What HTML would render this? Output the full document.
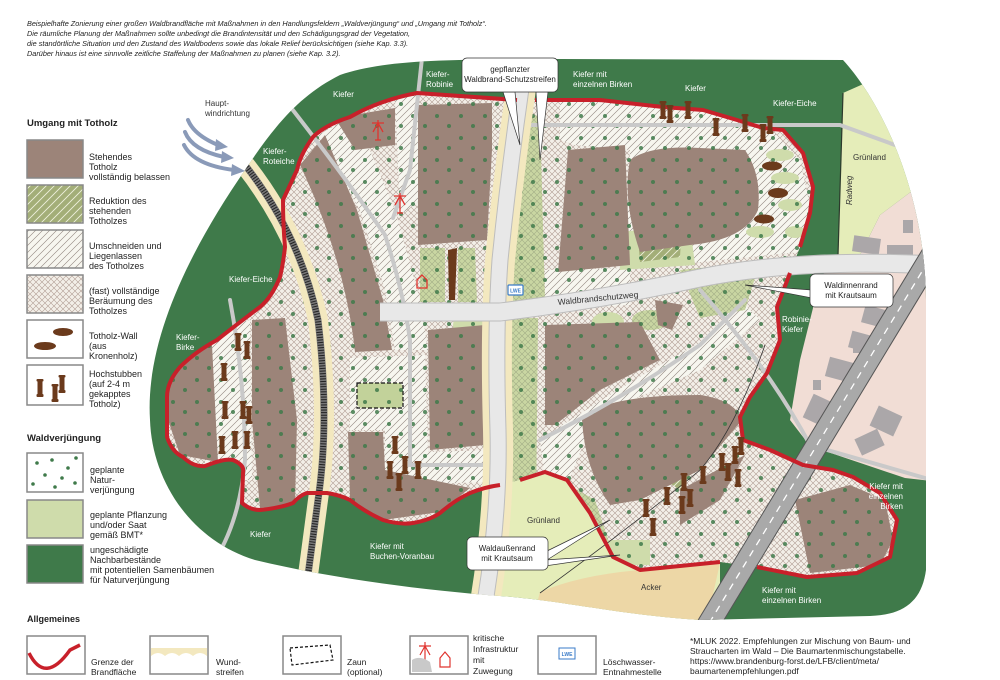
<!DOCTYPE html>
<html><head><meta charset="utf-8">
<style>
html,body{margin:0;padding:0;background:#fff;}
body{width:1000px;height:680px;overflow:hidden;position:relative;font-family:"Liberation Sans",sans-serif;}
svg{position:absolute;left:0;top:0;}
.t{font-family:"Liberation Sans",sans-serif;}
</style></head><body>
<svg width="1000" height="680" viewBox="0 0 1000 680" xmlns="http://www.w3.org/2000/svg">
<defs>
<pattern id="cross" width="6" height="6" patternUnits="userSpaceOnUse">
<rect width="6" height="6" fill="#f3efe8"/>
<path d="M0,0 L6,6 M6,0 L0,6" stroke="#b19d94" stroke-width="0.6"/>
</pattern>
<pattern id="crossg" width="6" height="6" patternUnits="userSpaceOnUse">
<rect width="6" height="6" fill="#c9d6a2"/>
<path d="M0,0 L6,6 M6,0 L0,6" stroke="#a3ad86" stroke-width="0.6"/>
</pattern>
<pattern id="hatch" width="7" height="7" patternUnits="userSpaceOnUse">
<rect width="7" height="7" fill="#f7f6ef"/>
<path d="M-1,8 L8,-1 M-1,1 L1,-1 M6,8 L8,6" stroke="#8e827b" stroke-width="0.6"/>
</pattern>
<pattern id="ghatch" width="8" height="8" patternUnits="userSpaceOnUse">
<rect width="8" height="8" fill="#a3ae78"/>
<path d="M-1,9 L9,-1 M-1,1 L1,-1 M7,9 L9,7" stroke="#eef0dc" stroke-width="0.9"/>
</pattern>
<pattern id="dots" width="24" height="22" patternUnits="userSpaceOnUse">
<circle cx="5" cy="6" r="2" fill="#3f7a4a"/>
<circle cx="17" cy="16" r="2" fill="#3f7a4a"/>
</pattern>
<clipPath id="outer">
<path d="M150,420 C145,340 190,250 245,170 C275,125 300,95 340,75 C390,58 460,60 560,59 L843,60 C880,100 925,190 926,300 L926,570 C922,600 905,615 870,616 L700,620 C620,615 560,600 500,596 C420,590 330,578 255,560 C190,540 152,480 150,420 Z"/>
</clipPath>
<clipPath id="burn">
<path id="burnp" d="M517,100 L417,93 Q380,100 350,117 Q325,125 313,137 Q300,155 297,170 L283,200 Q283,225 285,247 Q283,265 280,277 Q272,297 260,307 Q240,322 217,340 Q195,352 180,367 Q167,382 167,397 L167,437 Q172,452 183,457 Q193,467 205,466 Q225,458 233,460 Q245,465 243,473 L242,503 Q250,510 260,510 Q280,508 293,503 Q300,495 307,493 L327,493 Q340,495 350,500 Q365,512 383,520 Q400,525 413,523 Q430,520 440,513 Q455,500 470,493 Q485,487 500,485 L520,480 L545,472 L567,480 L590,513 L613,557 L640,570 L720,562 L757,567 L807,577 L857,573 L890,557 L897,520 L880,493 L853,477 L833,470 L803,465 L770,450 L743,440 L740,417 L750,397 L767,373 L780,340 L777,307 L790,273 L800,247 L810,213 L813,187 L803,153 L783,130 L763,128 L737,120 L703,110 L663,107 L600,100 Z"/>
</clipPath>
<g id="st"><rect x="-2.5" y="-9" width="5" height="18" rx="1" fill="#6b3a1c"/><rect x="-3.5" y="-9" width="7" height="2.5" rx="1" fill="#6b3a1c"/><rect x="-3.5" y="6" width="7" height="3" rx="1" fill="#6b3a1c"/></g>
</defs>

<g class="t" font-size="7.3" font-style="italic" fill="#222">
<text x="27" y="26">Beispielhafte Zonierung einer großen Waldbrandfläche mit Maßnahmen in den Handlungsfeldern „Waldverjüngung“ und „Umgang mit Totholz“.</text>
<text x="27" y="36">Die räumliche Planung der Maßnahmen sollte unbedingt die Brandintensität und den Schädigungsgrad der Vegetation,</text>
<text x="27" y="46">die standörtliche Situation und den Zustand des Waldbodens sowie das lokale Relief berücksichtigen (siehe Kap. 3.3).</text>
<text x="27" y="56">Darüber hinaus ist eine sinnvolle zeitliche Staffelung der Maßnahmen zu planen (siehe Kap. 3.2).</text>
</g>

<g clip-path="url(#outer)">
<rect x="140" y="50" width="800" height="580" fill="#3f7a4a"/>
<path d="M843,93 L940,50 L940,170 L880,215 L860,255 L838,255 Z" fill="#e5edb9"/>
<line x1="843" y1="93" x2="838" y2="255" stroke="#2c3a2c" stroke-width="1.2"/>
<path d="M838,262 L860,255 L880,215 L940,170 L940,482 L905,478 L810,446 L790,420 L800,360 L815,300 L825,270 Z" fill="#f1ddd5"/>
<line x1="810" y1="446" x2="930" y2="480" stroke="#aaa" stroke-width="2"/>
<g fill="#aba7a9">
<rect x="853" y="237" width="27" height="16" transform="rotate(8 866 245)"/>
<rect x="887" y="245" width="26" height="14"/>
<rect x="903" y="220" width="10" height="13"/>
<rect x="868" y="277" width="22" height="13"/>
<rect x="863" y="307" width="20" height="18" transform="rotate(15 873 316)"/>
<rect x="850" y="333" width="20" height="17" transform="rotate(15 860 341)"/>
<rect x="853" y="340" width="20" height="13"/>
<rect x="827" y="360" width="28" height="20" transform="rotate(15 841 370)"/>
<rect x="813" y="380" width="8" height="10"/>
<rect x="807" y="398" width="25" height="26" transform="rotate(25 820 411)"/>
<rect x="873" y="410" width="26" height="22" transform="rotate(25 886 421)"/>
<rect x="857" y="433" width="25" height="18" transform="rotate(-25 870 442)"/>
</g>
<path d="M495,486 L545,472 L567,480 L590,513 L613,557 L640,570 L720,562 L720,630 L470,630 Z" fill="#e5edb9"/>
<path d="M540,592 Q580,575 640,570 L720,563 L705,630 L530,630 Z" fill="#edd7a6"/>

<use href="#burnp" fill="url(#cross)"/>

<g clip-path="url(#burn)">
<g fill="url(#hatch)">
<path d="M318,135 L355,115 L395,210 L420,300 L428,350 L395,350 L385,290 L360,210 Z"/>
<path d="M395,95 L418,95 L420,200 L400,215 Z"/>
<path d="M205,330 L250,320 L252,480 L205,480 Z"/>
<path d="M350,358 L425,355 L428,452 L492,450 L492,482 L385,485 L385,430 L350,430 Z"/>
<path d="M560,100 L700,108 L770,128 L800,160 L812,215 L800,252 L700,262 L625,270 L630,150 L575,145 L560,140 Z"/>
<path d="M540,440 Q600,400 660,365 L705,340 L740,300 L760,320 L700,370 L620,405 L585,440 L565,490 L545,480 Z"/>
<path d="M545,270 L630,268 L630,305 L545,310 Z"/>
</g>
<g fill="url(#crossg)">
<path d="M515,118 L540,115 L545,300 L513,302 Z"/>
<path d="M510,318 L538,318 L536,520 L505,520 Z"/>
<path d="M420,248 L445,248 L445,302 L420,302 Z"/>
<path d="M458,248 L475,248 L477,302 L458,302 Z"/>
<path d="M560,480 L595,500 L610,545 L580,545 Z"/>
<path d="M680,270 L760,262 L745,310 L700,318 Z"/>
<ellipse cx="650" cy="320" rx="18" ry="10"/>
</g>
<g fill="#cfdcab">
<ellipse cx="472" cy="135" rx="13" ry="17"/>
<ellipse cx="470" cy="325" rx="17" ry="12"/>
<ellipse cx="608" cy="322" rx="16" ry="10"/>
<path d="M620,232 L690,225 L695,265 L620,270 Z"/>
<ellipse cx="780" cy="155" rx="14" ry="6"/>
<ellipse cx="785" cy="178" rx="14" ry="6"/>
<ellipse cx="790" cy="205" rx="12" ry="6"/>
<ellipse cx="760" cy="232" rx="14" ry="6"/>
<ellipse cx="795" cy="232" rx="10" ry="6"/>
<path d="M590,540 L650,540 L650,565 L600,565 Z"/>
</g>
<rect x="357" y="383" width="46" height="25" rx="5" fill="#c2d29a"/>
<rect x="357" y="383" width="46" height="25" fill="none" stroke="#111" stroke-width="1.2" stroke-dasharray="4,2"/>
<g fill="url(#ghatch)">
<path d="M637,225 L682,222 L680,257 L640,262 Z"/>
<path d="M642,432 Q660,425 670,440 L690,475 L680,490 L650,470 Z"/>
</g>
<g fill="#9c8479">
<path d="M300,165 L325,135 L357,210 L383,300 L392,350 L355,352 Q345,260 300,165 Z"/>
<path d="M348,432 L383,432 L385,470 L470,488 L440,512 L383,520 L350,500 Z"/>
<path d="M252,320 L285,318 L297,420 L295,505 L260,508 L252,420 Z"/>
<path d="M170,360 L212,345 L218,462 L180,455 L168,420 Z"/>
<path d="M418,105 L492,103 L492,150 L487,240 L418,245 Z"/>
<path d="M335,118 L395,108 L395,145 L355,150 Z"/>
<path d="M428,330 L485,325 L485,445 L430,450 Z"/>
<path d="M568,150 L625,145 L630,265 L558,272 Z"/>
<path d="M630,160 Q650,145 700,148 L745,150 Q762,175 758,210 Q745,240 690,245 L640,252 Q622,200 630,160 Z"/>
<path d="M545,325 L640,322 L660,360 L600,390 L555,425 L545,425 Z"/>
<path d="M655,300 L683,305 L672,330 L658,325 Z"/>
<path d="M582,420 Q600,395 700,395 Q735,400 742,420 L700,470 L640,500 L610,505 Q585,470 582,420 Z"/>
<path d="M680,490 L745,455 L720,500 L680,525 Z"/>
<path d="M795,500 L850,485 L885,500 L893,540 L880,565 L810,573 Z"/>
</g>
<rect x="0" y="0" width="1000" height="680" fill="url(#dots)" opacity="0.85"/>
</g>

<g fill="none" stroke="#c9c9c9" stroke-width="4" stroke-linecap="round">
<path d="M285,100 Q340,170 385,235 Q403,290 410,340 L410,465 L497,465"/>
<path d="M422,58 L410,170 L393,218"/>
<path d="M230,300 Q245,380 245,460 Q240,520 215,560"/>
<path d="M520,125 L650,125 L840,125 L895,145"/>
<path d="M540,440 Q620,400 700,345 L745,300"/>
<path d="M700,290 Q770,370 810,445 L925,478"/>
<path d="M398,305 L480,305"/>
</g>
<path d="M540,593 Q640,520 700,470 Q735,430 765,345" fill="none" stroke="#333" stroke-width="0.8"/>

<path d="M245,165 Q300,235 318,320 Q330,420 318,500 L302,620" fill="none" stroke="#f3e8bf" stroke-width="20"/>
<path d="M245,165 Q300,235 318,320 Q330,420 318,500 L302,620" fill="none" stroke="#777" stroke-width="7"/>
<path d="M245,165 Q300,235 318,320 Q330,420 318,500 L302,620" fill="none" stroke="#222" stroke-width="6" stroke-dasharray="1,1.6"/>

<path d="M526,55 Q510,160 500,260 Q495,330 498,430 Q500,520 482,620" fill="none" stroke="#f3e8bf" stroke-width="30"/>
<path d="M526,55 Q510,160 500,260 Q495,330 498,430 Q500,520 482,620" fill="none" stroke="#bdbdbd" stroke-width="17"/>
<path d="M526,55 Q510,160 500,260 Q495,330 498,430 Q500,520 482,620" fill="none" stroke="#e8e8e8" stroke-width="15"/>
<path d="M380,312 L500,312 Q600,300 700,278 Q800,258 935,265" fill="none" stroke="#bdbdbd" stroke-width="19"/>
<path d="M380,312 L500,312 Q600,300 700,278 Q800,258 935,265" fill="none" stroke="#e8e8e8" stroke-width="17"/>
<path d="M935,250 L705,630" stroke="#555" stroke-width="23"/>
<path d="M935,250 L705,630" stroke="#a9a9a9" stroke-width="21"/>
<path d="M935,250 L705,630" stroke="#fff" stroke-width="1.3" stroke-dasharray="7,6"/>
</g>

<path d="M517,100 L417,93 Q380,100 350,117 Q325,125 313,137 Q300,155 297,170 L283,200 Q283,225 285,247 Q283,265 280,277 Q272,297 260,307 Q240,322 217,340 Q195,352 180,367 Q167,382 167,397 L167,437 Q172,452 183,457 Q193,467 205,466 Q225,458 233,460 Q245,465 243,473 L242,503 Q250,510 260,510 Q280,508 293,503 Q300,495 307,493 L327,493 Q340,495 350,500 Q365,512 383,520 Q400,525 413,523 Q430,520 440,513 Q455,500 470,493 Q485,487 500,485 M520,480 L545,472 L567,480 L590,513 L613,557 L640,570 L720,562 M757,567 L807,577 L857,573 L890,557 L897,520 L880,493 L853,477 L833,470 L803,465 L770,450 L743,440 L740,417 L750,397 L767,373 L780,340 L777,307 L790,273 M800,247 L810,213 L813,187 L803,153 L783,130 L763,128 L737,120 L703,110 L663,107 L600,100 L535,100" fill="none" stroke="#c8202a" stroke-width="4" stroke-linejoin="round"/>

<g>
<use href="#st" x="663" y="110"/><use href="#st" x="670" y="114"/><use href="#st" x="688" y="110"/><use href="#st" x="716" y="127"/><use href="#st" x="745" y="123"/><use href="#st" x="763" y="133"/><use href="#st" x="770" y="125"/>
<use href="#st" x="238" y="342"/><use href="#st" x="247" y="350"/><use href="#st" x="224" y="372"/><use href="#st" x="225" y="410"/><use href="#st" x="243" y="410"/><use href="#st" x="249" y="415"/><use href="#st" x="222" y="445"/><use href="#st" x="235" y="440"/><use href="#st" x="247" y="440"/>
<use href="#st" x="395" y="445"/><use href="#st" x="390" y="470"/><use href="#st" x="405" y="465"/><use href="#st" x="399" y="482"/><use href="#st" x="418" y="470"/>
<use href="#st" x="646" y="508"/><use href="#st" x="653" y="527"/><use href="#st" x="667" y="496"/><use href="#st" x="684" y="482"/><use href="#st" x="682" y="505"/><use href="#st" x="690" y="498"/><use href="#st" x="703" y="475"/><use href="#st" x="722" y="462"/><use href="#st" x="728" y="472"/><use href="#st" x="735" y="455"/><use href="#st" x="738" y="478"/><use href="#st" x="741" y="446"/>
</g>
<path d="M448,250 L457,248 L455,300 L449,300 Z" fill="#6b3a1c"/>
<g fill="#6b3a1c">
<ellipse cx="772" cy="166" rx="10" ry="4.5"/><ellipse cx="778" cy="193" rx="10" ry="5"/><ellipse cx="764" cy="219" rx="10" ry="4.5"/>
</g>
<g fill="none" stroke="#e0342f" stroke-width="1.3">
<path d="M378,120 L378,140 M372,123 L384,123 M375,140 L381,140 M378,123 L373,132 M378,123 L383,132"/>
<path d="M400,193 L400,213 M394,196 L406,196 M397,213 L403,213 M400,196 L395,205 M400,196 L405,205"/>
<path d="M417,280 L422,275 L427,280 L427,288 L417,288 Z"/>
</g>
<rect x="508" y="285" width="15" height="10" fill="#fff" stroke="#3a7bc8" stroke-width="1.2" rx="1"/>
<text x="515.5" y="292.5" font-size="5" text-anchor="middle" fill="#3a7bc8" class="t" font-weight="bold">LWE</text>

<g fill="none" stroke="#8a9ab8" stroke-width="4" stroke-linecap="round">
<path d="M188,120 Q194,135 218,145"/>
<path d="M185,132 Q192,150 224,157"/>
<path d="M184,145 Q194,165 234,170"/>
</g>
<g fill="#8a9ab8"><path d="M216,139 L228,147 L215,151 Z"/><path d="M222,151 L234,158 L221,163 Z"/><path d="M232,164 L245,171 L231,176 Z"/></g>
<text class="t" font-size="8" fill="#333"><tspan x="205" y="106">Haupt-</tspan><tspan x="205" y="116">windrichtung</tspan></text>

<g class="t" font-size="8" fill="#fff">
<text x="333" y="97">Kiefer</text>
<text x="426" y="77">Kiefer-</text><text x="426" y="87">Robinie</text>
<text x="573" y="77">Kiefer mit</text><text x="573" y="87">einzelnen Birken</text>
<text x="685" y="91">Kiefer</text>
<text x="773" y="106">Kiefer-Eiche</text>
<text x="263" y="154">Kiefer-</text><text x="263" y="164">Roteiche</text>
<text x="229" y="282">Kiefer-Eiche</text>
<text x="176" y="340">Kiefer-</text><text x="176" y="350">Birke</text>
<text x="250" y="537">Kiefer</text>
<text x="370" y="549">Kiefer mit</text><text x="370" y="559">Buchen-Voranbau</text>
<text x="782" y="322">Robinie-</text><text x="782" y="332">Kiefer</text>
<text x="903" y="489" text-anchor="end">Kiefer mit</text><text x="903" y="499" text-anchor="end">einzelnen</text><text x="903" y="509" text-anchor="end">Birken</text>
<text x="762" y="593">Kiefer mit</text><text x="762" y="603">einzelnen Birken</text>
</g>
<g class="t" font-size="8" fill="#333">
<text x="853" y="160">Grünland</text>
<text x="852" y="205" transform="rotate(-90 852 205)" font-style="italic">Radweg</text>
<text x="527" y="523">Grünland</text>
<text x="641" y="590">Acker</text>
<text x="558" y="305" transform="rotate(-5.5 558 305)" font-size="8.5">Waldbrandschutzweg</text>
</g>

<g stroke="#333" stroke-width="0.7" fill="#fff">
<path d="M503,92 L520,145 L515,92 Z"/>
<path d="M548,92 L540,160 L536,92 Z"/>
<path d="M812,290 L745,285 L812,298 Z"/>
<path d="M545,552 L610,520 L547,560 Z"/>
<path d="M545,560 L620,555 L545,566 Z"/>
<rect x="462" y="58" width="96" height="34" rx="5"/>
<rect x="810" y="274" width="83" height="33" rx="5"/>
<rect x="467" y="537" width="81" height="33" rx="5"/>
</g>
<g class="t" font-size="8" fill="#222" text-anchor="middle">
<text x="510" y="72">gepflanzter</text><text x="510" y="82">Waldbrand-Schutzstreifen</text>
<text x="851" y="288">Waldinnenrand</text><text x="851" y="298">mit Krautsaum</text>
<text x="507" y="551">Waldaußenrand</text><text x="507" y="561">mit Krautsaum</text>
</g>

<g class="t" fill="#222">
<text x="27" y="126" font-size="9.5" font-weight="bold">Umgang mit Totholz</text>
<g stroke="#888" stroke-width="1.5">
<rect x="27" y="140" width="56" height="38" fill="#9c8479"/>
<rect x="27" y="185" width="56" height="38" fill="url(#ghatch)"/>
<rect x="27" y="230" width="56" height="38" fill="url(#hatch)"/>
<rect x="27" y="275" width="56" height="38" fill="url(#cross)"/>
<rect x="27" y="320" width="56" height="38" fill="#fff"/>
<rect x="27" y="365" width="56" height="40" fill="#fff"/>
<rect x="27" y="453" width="56" height="39" fill="#fff"/>
<rect x="27" y="500" width="56" height="38" fill="#cfdcab"/>
<rect x="27" y="545" width="56" height="38" fill="#3f7a4a"/>
</g>
<g fill="#6b3a1c"><ellipse cx="63" cy="332" rx="10" ry="4"/><ellipse cx="45" cy="346" rx="11" ry="4"/></g>
<use href="#st" x="40" y="388"/><use href="#st" x="55" y="393"/><use href="#st" x="62" y="384"/>
<g fill="#3f7a4a"><circle cx="37" cy="463" r="1.8"/><circle cx="52" cy="460" r="1.8"/><circle cx="68" cy="468" r="1.8"/><circle cx="45" cy="475" r="1.8"/><circle cx="62" cy="478" r="1.8"/><circle cx="76" cy="458" r="1.8"/><circle cx="33" cy="484" r="1.8"/><circle cx="55" cy="487" r="1.8"/><circle cx="75" cy="483" r="1.8"/></g>
<g font-size="9">
<text x="89" y="160">Stehendes</text><text x="89" y="170">Totholz</text><text x="89" y="180">vollständig belassen</text>
<text x="89" y="204">Reduktion des</text><text x="89" y="214">stehenden</text><text x="89" y="224">Totholzes</text>
<text x="89" y="249">Umschneiden und</text><text x="89" y="259">Liegenlassen</text><text x="89" y="269">des Totholzes</text>
<text x="89" y="294">(fast) vollständige</text><text x="89" y="304">Beräumung des</text><text x="89" y="314">Totholzes</text>
<text x="89" y="339">Totholz-Wall</text><text x="89" y="349">(aus</text><text x="89" y="359">Kronenholz)</text>
<text x="89" y="377">Hochstubben</text><text x="89" y="387">(auf 2-4 m</text><text x="89" y="397">gekapptes</text><text x="89" y="407">Totholz)</text>
</g>
<text x="27" y="441" font-size="9.5" font-weight="bold">Waldverjüngung</text>
<g font-size="9">
<text x="90" y="473">geplante</text><text x="90" y="483">Natur-</text><text x="90" y="493">verjüngung</text>
<text x="90" y="518">geplante Pflanzung</text><text x="90" y="528">und/oder Saat</text><text x="90" y="538">gemäß BMT*</text>
<text x="90" y="553">ungeschädigte</text><text x="90" y="563">Nachbarbestände</text><text x="90" y="573">mit potentiellen Samenbäumen</text><text x="90" y="583">für Naturverjüngung</text>
</g>
<text x="27" y="622" font-size="9" font-weight="bold">Allgemeines</text>
<g stroke="#888" stroke-width="1.5" fill="#fff">
<rect x="27" y="636" width="58" height="38"/>
<rect x="150" y="636" width="58" height="38"/>
<rect x="283" y="636" width="58" height="38"/>
<rect x="410" y="636" width="58" height="38"/>
<rect x="538" y="636" width="58" height="38"/>
</g>
<path d="M29,653 Q45,685 70,650 L80,645" fill="none" stroke="#c8202a" stroke-width="3.5"/>
<path d="M151,648 L207,648 L207,656 Q200,650 193,656 Q186,650 179,656 Q172,650 165,656 Q158,650 151,656 Z" fill="#f3e8bf"/>
<path d="M290,648 L330,645 L333,660 L292,665 Z" fill="none" stroke="#111" stroke-width="1.2" stroke-dasharray="3,2"/>
<g fill="none" stroke="#e0342f" stroke-width="1.2"><path d="M425,642 L425,665 M419,646 L431,646 M425,646 L420,655 M425,646 L430,655"/><path d="M440,658 L445,652 L450,658 L450,667 L440,667 Z"/></g>
<path d="M412,660 Q420,655 430,662 L432,672 L412,672 Z" fill="#c9c9c9"/>
<rect x="559" y="648" width="16" height="11" fill="#fff" stroke="#3a7bc8" stroke-width="1"/>
<text x="567" y="656" font-size="5" text-anchor="middle" fill="#3a7bc8" font-weight="bold">LWE</text>
<g font-size="8.5">
<text x="91" y="665">Grenze der</text><text x="91" y="675">Brandfläche</text>
<text x="216" y="665">Wund-</text><text x="216" y="675">streifen</text>
<text x="347" y="665">Zaun</text><text x="347" y="675">(optional)</text>
<text x="473" y="641">kritische</text><text x="473" y="652">Infrastruktur</text><text x="473" y="663">mit</text><text x="473" y="674">Zuwegung</text>
<text x="603" y="665">Löschwasser-</text><text x="603" y="675">Entnahmestelle</text>
<text x="690" y="644">*MLUK 2022. Empfehlungen zur Mischung von Baum- und</text>
<text x="690" y="654">Straucharten im Wald – Die Baumartenmischungstabelle.</text>
<text x="690" y="664">https://www.brandenburg-forst.de/LFB/client/meta/</text>
<text x="690" y="674">baumartenempfehlungen.pdf</text>
</g>
</g>
</svg>
</body></html>
